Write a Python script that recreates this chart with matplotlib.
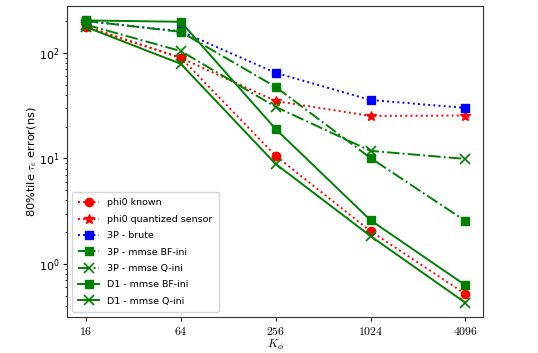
import matplotlib
matplotlib.use("Agg")
import matplotlib.pyplot as plt
from matplotlib.ticker import FixedLocator, FixedFormatter, NullLocator

plt.rcParams['mathtext.fontset'] = 'cm'

K = [16, 64, 256, 1024, 4096]
xtick_labels = ['16', '64', '256', '1024', '4096']

phi0_known = [176, 90, 10.6, 2.05, 0.52]
phi0_quant = [178, 89.7, 35, 25.3, 25.5]
brute_3p = [200, 160, 64.7, 35.8, 30.1]
bf_3p = [201, 158, 47.6, 10.1, 2.56]
q_3p = [185, 104, 30.8, 11.8, 9.9]
bf_d1 = [203, 197, 19.0, 2.6, 0.63]
q_d1 = [176, 78.7, 8.87, 1.84, 0.43]

labels = ['phi0 known', 'phi0 quantized sensor', '3P - brute',
          '3P - mmse BF-ini', '3P - mmse Q-ini', 'D1 - mmse BF-ini', 'D1 - mmse Q-ini']

fig = plt.figure(figsize=(5.38, 3.53), dpi=100)
ax = fig.add_axes([0.1245, 0.102, 0.774, 0.881])

lw = 1.4
ax.plot(K, phi0_known, ':', color='red', marker='o', ms=6, lw=lw, label=labels[0])
ax.plot(K, phi0_quant, ':', color='red', marker='*', ms=7, lw=lw, label=labels[1])
ax.plot(K, brute_3p, ':', color='blue', marker='s', ms=6, lw=lw, label=labels[2])
ax.plot(K, bf_3p, '-.', color='green', marker='s', ms=6, lw=lw, label=labels[3])
ax.plot(K, q_3p, '-.', color='green', marker='x', ms=7, mew=1.2, lw=lw, label=labels[4])
ax.plot(K, bf_d1, '-', color='green', marker='s', ms=6, lw=lw, label=labels[5])
ax.plot(K, q_d1, '-', color='green', marker='x', ms=7, mew=1.2, lw=lw, label=labels[6])

ax.set_xscale('log', base=2)
ax.set_yscale('log')
ax.set_xlim(16 / 4 ** 0.2, 4096 * 4 ** 0.19)
ax.set_ylim(0.315, 278)
ax.xaxis.set_major_locator(FixedLocator(K))
ax.xaxis.set_major_formatter(FixedFormatter(['$%s$' % t for t in xtick_labels]))
ax.xaxis.set_minor_locator(NullLocator())
ax.tick_params(axis='x', which='major', labelsize=8.5, length=3, pad=2.5)
ax.tick_params(axis='y', which='major', labelsize=8, length=3, pad=2.5)
ax.tick_params(axis='y', which='minor', length=1.8)
for s in ax.spines.values():
    s.set_color('#333333')

ax.set_xlabel(r'$K_\phi$', fontsize=8.5, labelpad=0)
ax.set_ylabel(r'80%tile $\tau_e$ error(ns)', fontsize=8.2, labelpad=0)
ax.legend(loc='lower left', fontsize=6.8, borderpad=0.7, labelspacing=0.78,
          handlelength=2.2)

fig.savefig('out.png', dpi=100)
